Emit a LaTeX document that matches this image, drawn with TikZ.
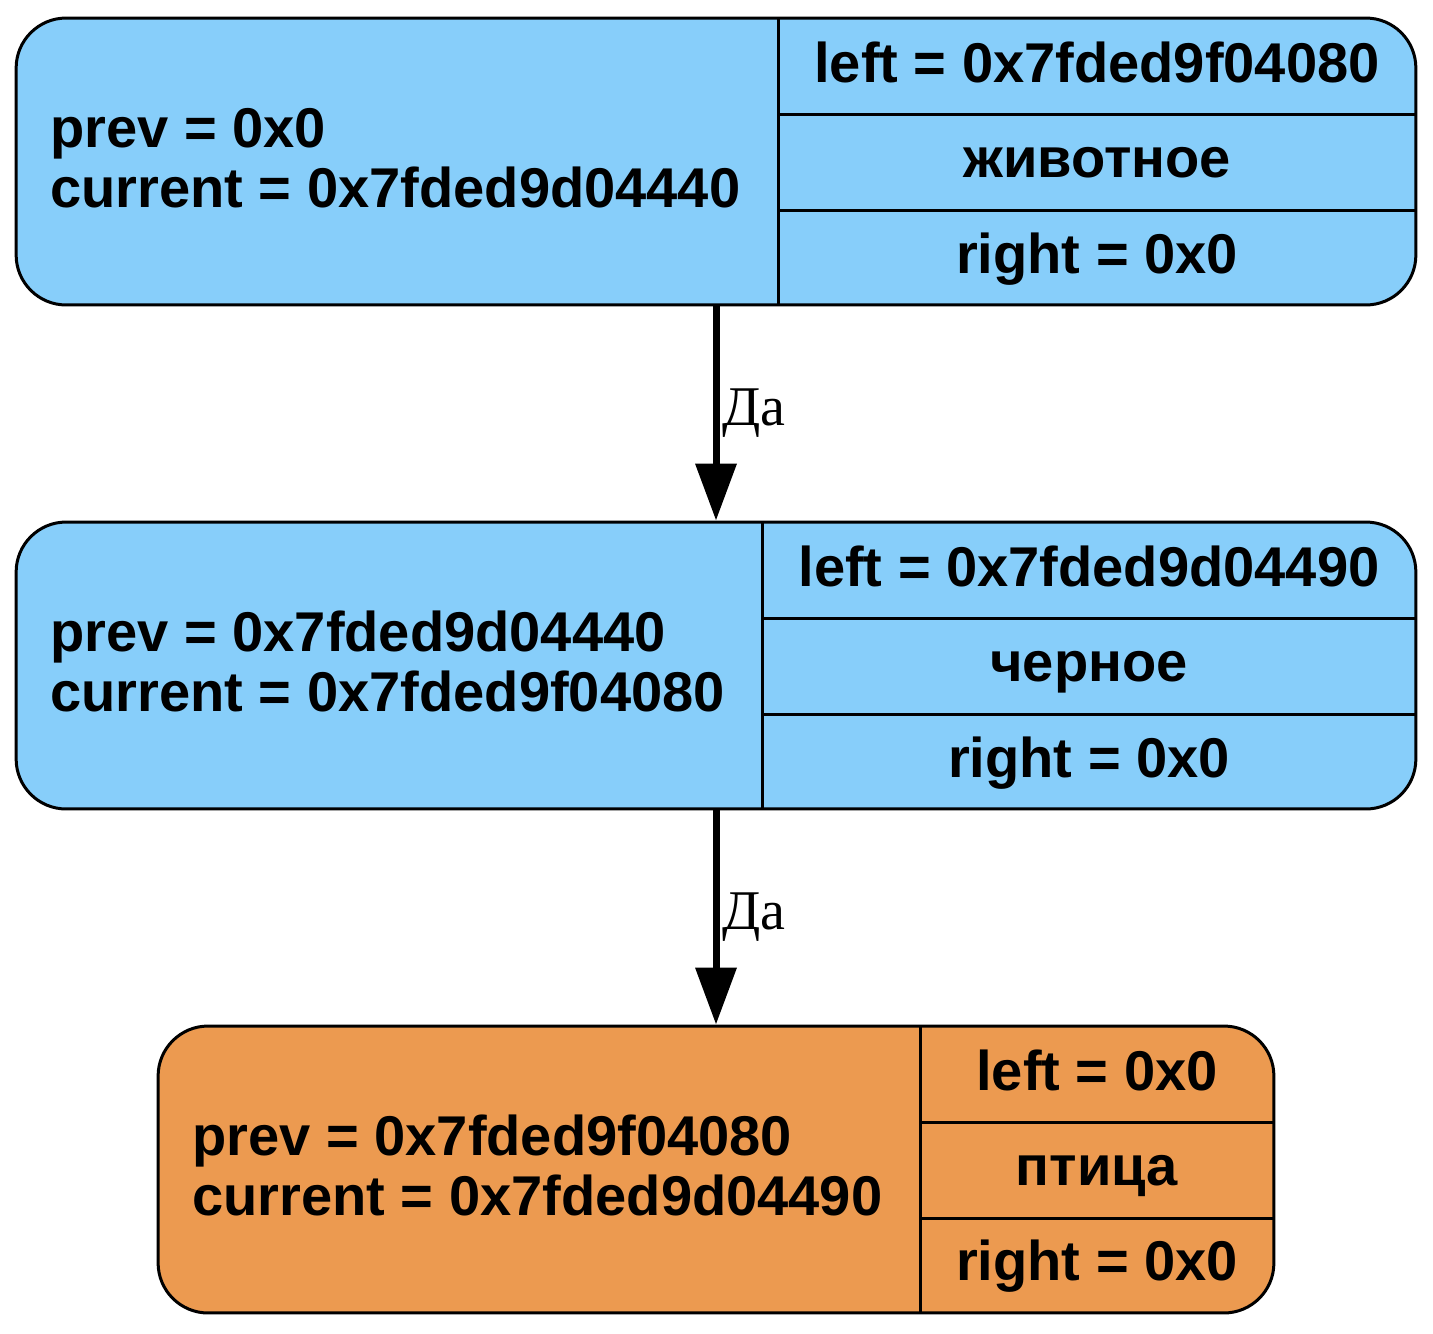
\documentclass[tikz,border=0pt]{standalone}
\usepackage{fontspec}
\setmainfont{Liberation Serif}
\newfontfamily\recfont{Liberation Sans}
\usepackage{tikz}
\usetikzlibrary{calc,positioning,arrows.meta}
\definecolor{recblue}{HTML}{87CEFA}
\definecolor{recorange}{HTML}{EC9A50}

\begin{document}
\begin{tikzpicture}[x=0.02cm,y=-0.02cm,
		rec/.style={shape=rectangle,draw,line width=0.06cm,rounded corners=1cm,inner sep=0,minimum height=5.74cm},
		cell/.style={line width=0.06cm},
		txt/.style={inner sep=0,font=\recfont\bfseries\fontsize{31.9pt}{34.2pt}\selectfont},
		edge/.style={line width=0.14cm,-{Triangle[length=1.14cm,width=0.8cm]}},
		lbl/.style={anchor=west,inner sep=0.06cm,font=\fontsize{31.9pt}{34.2pt}\selectfont}]
		\useasboundingbox (0,0) rectangle (1433,1333);
		\begin{scope}
			\node(1) [rec,fill=recblue,minimum width=28cm] at (716,161.5) {};
			\draw[cell] (778,18) -- (778,305) (778,114) -- (1416,114) (778,210) -- (1416,210);
			\node(1prev) [txt,anchor=base west] at (50,147) {prev = 0x0};
			\node(1cur) [txt,anchor=base west] at (50,207) {current = 0x7fded9d04440};
			\node(1left) [txt,anchor=base] at (1097,82) {left = 0x7fded9f04080};
			\node(1val) [txt,anchor=base] at (1097,177) {животное};
			\node(1right) [txt,anchor=base] at (1097,273) {right = 0x0};
		\end{scope}
		\begin{scope}
			\node(2) [rec,fill=recblue,minimum width=28cm] at (716,665.5) {};
			\draw[cell] (762,522) -- (762,809) (762,618) -- (1416,618) (762,714) -- (1416,714);
			\node(2prev) [txt,anchor=base west] at (50,651) {prev = 0x7fded9d04440};
			\node(2cur) [txt,anchor=base west] at (50,711) {current = 0x7fded9f04080};
			\node(2left) [txt,anchor=base] at (1089,586) {left = 0x7fded9d04490};
			\node(2val) [txt,anchor=base] at (1089,681) {черное};
			\node(2right) [txt,anchor=base] at (1089,777) {right = 0x0};
		\end{scope}
		\begin{scope}
			\node(3) [rec,fill=recorange,minimum width=22.32cm] at (716,1169.5) {};
			\draw[cell] (920,1026) -- (920,1313) (920,1122) -- (1274,1122) (920,1218) -- (1274,1218);
			\node(3prev) [txt,anchor=base west] at (192,1155) {prev = 0x7fded9f04080};
			\node(3cur) [txt,anchor=base west] at (192,1215) {current = 0x7fded9d04490};
			\node(3left) [txt,anchor=base] at (1097,1090) {left = 0x0};
			\node(3val) [txt,anchor=base] at (1097,1185) {птица};
			\node(3right) [txt,anchor=base] at (1097,1280) {right = 0x0};
		\end{scope}
		\draw[edge] (1) -- (2) node [lbl,midway] {Да};
		\draw[edge] (2) -- (3) node [lbl,midway] {Да};
	\end{tikzpicture}
\end{document}
